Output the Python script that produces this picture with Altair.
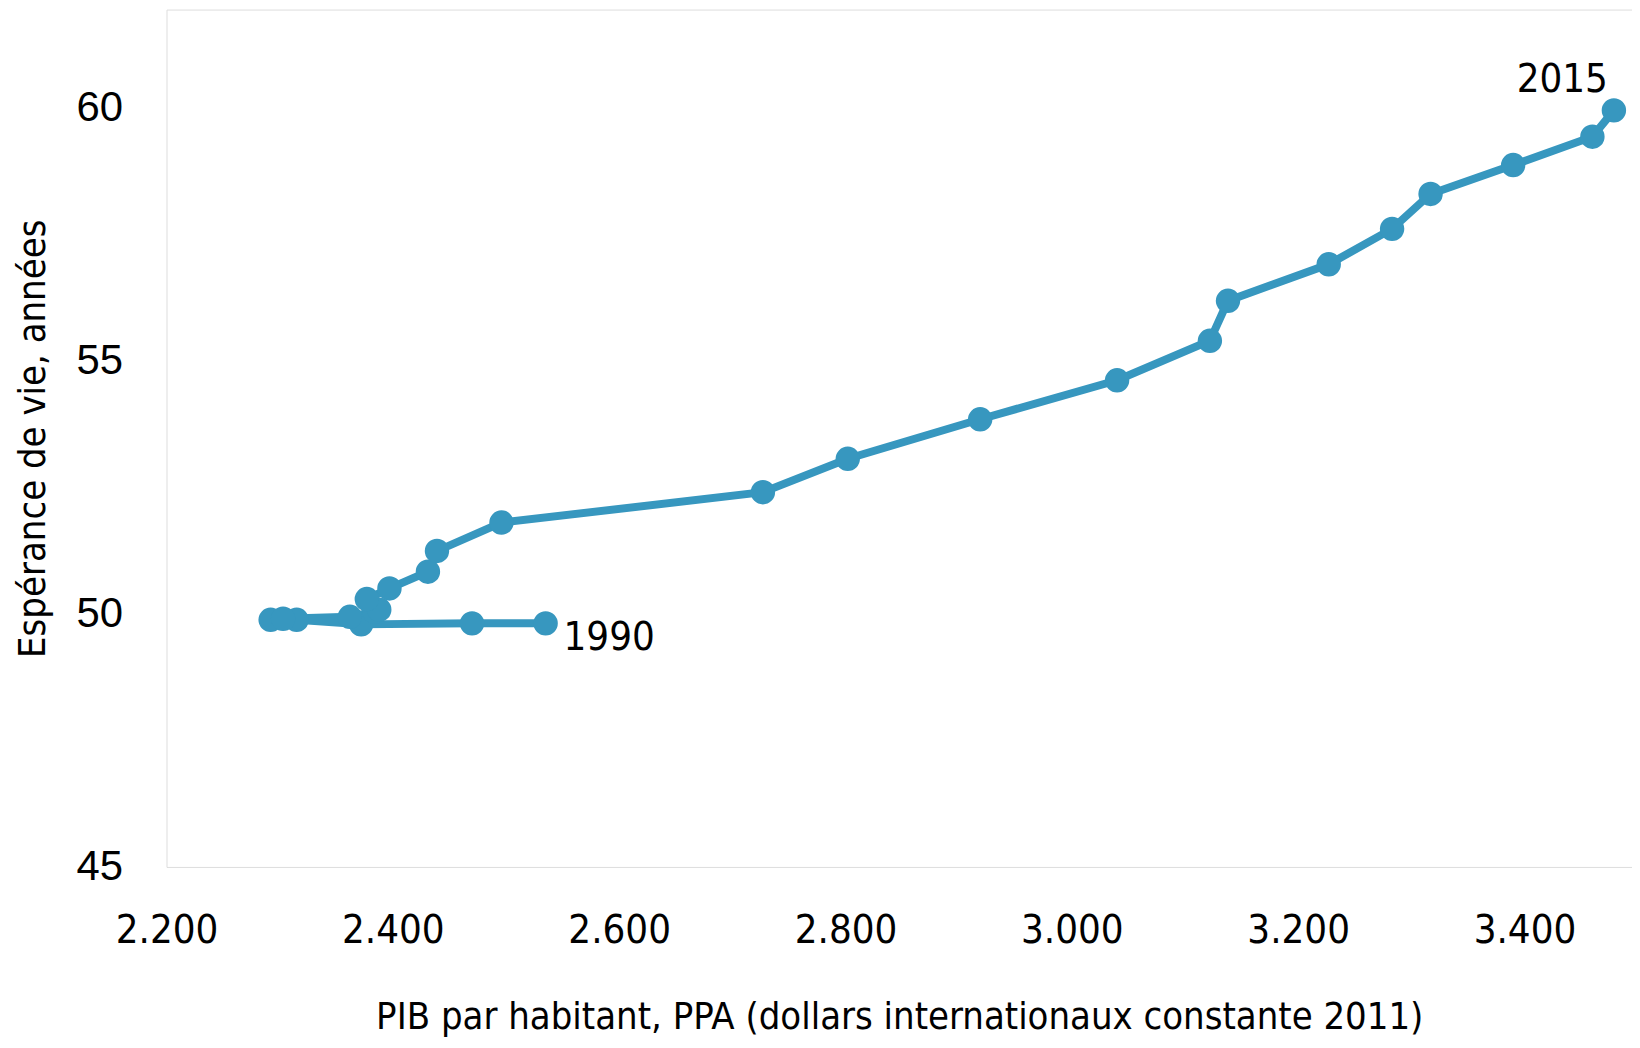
import altair as alt
import pandas as pd

years = list(range(1990, 2016))
gdp = [2535, 2470, 2372, 2315, 2292, 2303, 2362, 2384, 2388, 2377,
       2397, 2431, 2439, 2496, 2727, 2802, 2919, 3040, 3122, 3138,
       3227, 3283, 3317, 3390, 3460, 3479]
life = [49.81, 49.81, 49.79, 49.88, 49.88, 49.90, 49.94, 50.04, 50.08, 50.29,
        50.50, 50.83, 51.24, 51.80, 52.40, 53.06, 53.84, 54.61, 55.39, 56.18,
        56.90, 57.60, 58.29, 58.86, 59.42, 59.94]

df = pd.DataFrame({"year": years, "gdp": gdp, "life": life})

COLOR = "#3797BF"
FONT = "DejaVu Sans Condensed"

x = alt.X("gdp:Q", scale=alt.Scale(domain=[2200, 3495], nice=False, zero=False),
          axis=alt.Axis(values=[2200, 2400, 2600, 2800, 3000, 3200, 3400],
                        format=",.0f", title="PIB  par habitant, PPA (dollars internationaux constante 2011)",
                        labelExpr="replace(datum.label, ',', '.')",
                        ticks=False, grid=False, domain=False, labelFlush=False,
                        labelFontSize=40, labelFont=FONT, labelPadding=44, labelColor="#000",
                        titleFontSize=38, titleFont=FONT, titleFontWeight="normal",
                        titlePadding=48, titleColor="#000"))
y = alt.Y("life:Q", scale=alt.Scale(domain=[45, 61.93], nice=False, zero=False),
          axis=alt.Axis(values=[45, 50, 55, 60], title="Espérance de vie, années",
                        ticks=False, grid=False, domain=False, labelFlush=False,
                        labelFontSize=42, labelFont="Liberation Sans", labelPadding=44,
                        labelColor="#000",
                        titleFontSize=38, titleFont=FONT, titleFontWeight="normal",
                        titlePadding=24, titleColor="#000"))

base = alt.Chart(df).encode(x=x, y=y, order="year:O")
line = base.mark_line(color=COLOR, strokeWidth=8)
pts = base.mark_circle(color=COLOR, size=600, opacity=1)

lab1990 = alt.Chart(df[df.year == 1990]).mark_text(
    align="left", baseline="middle", dx=18, dy=15, fontSize=40, font=FONT, color="#000"
).encode(x=x, y=y, text="year:N")
lab2015 = alt.Chart(df[df.year == 2015]).mark_text(
    align="right", baseline="middle", dx=-6, dy=-30, fontSize=40, font=FONT, color="#000"
).encode(x=x, y=y, text="year:N")

chart = (line + pts + lab1990 + lab2015).properties(
    width=1470, height=860,
    autosize=alt.AutoSizeParams(type="none"),
    padding={"left": 159, "top": 0, "right": 0, "bottom": 170},
).configure_view(stroke="#A6A6A6", strokeWidth=2).configure(background="white")

chart.save("out.html", embed_options={"renderer": "svg", "actions": False})
